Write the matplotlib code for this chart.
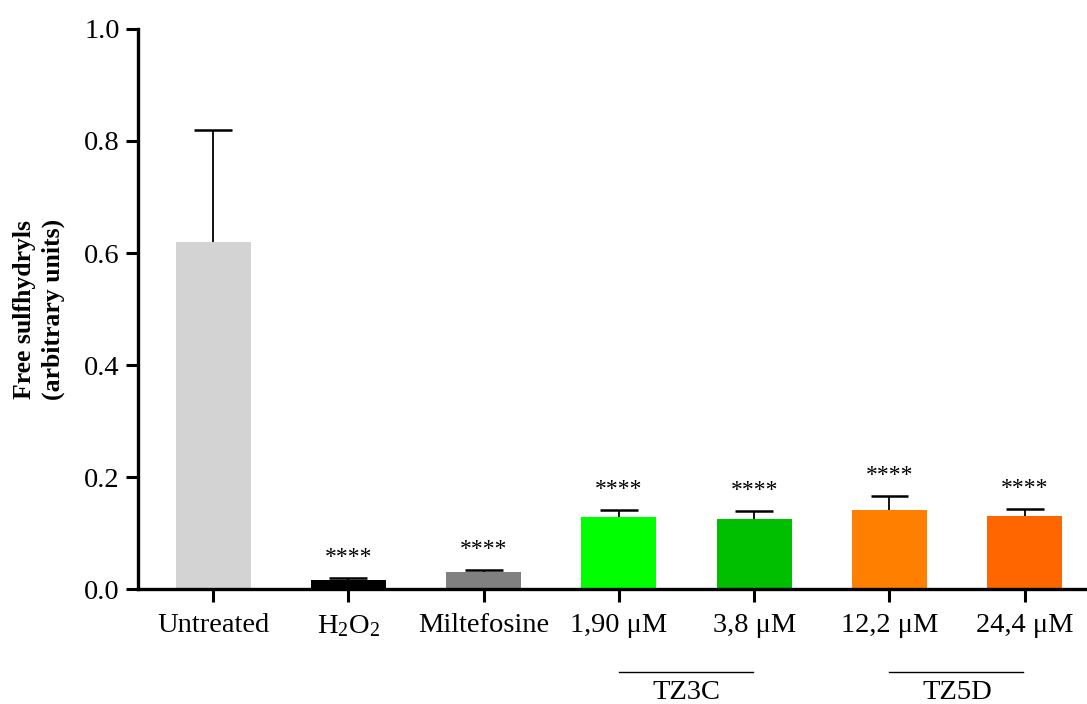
import matplotlib
matplotlib.use("Agg")
import matplotlib.pyplot as plt
import numpy as np

plt.rcParams['font.family'] = ['Liberation Serif', 'DejaVu Serif']
plt.rcParams['mathtext.fontset'] = 'custom'
plt.rcParams['mathtext.rm'] = 'Liberation Serif'
plt.rcParams['mathtext.it'] = 'Liberation Serif:italic'

categories = ['Untreated', r'H$_\mathregular{2}$O$_\mathregular{2}$', 'Miltefosine',
              '1,90 μM', '3,8 μM', '12,2 μM', '24,4 μM']
values = [0.62, 0.016, 0.030, 0.129, 0.125, 0.141, 0.130]
errors = [0.20, 0.004, 0.005, 0.012, 0.014, 0.025, 0.013]
stars = ['', '****', '****', '****', '****', '****', '****']
colors = ['#d3d3d3', '#000000', '#808080', '#00ff00', '#00bf00', '#ff8000', '#ff6600']
groups = [('TZ3C', 3, 4), ('TZ5D', 5, 6)]

fig = plt.figure(figsize=(10.87, 7.04), dpi=100)
ax = fig.add_axes([0.127, 0.163, 0.873, 0.796])

x = np.arange(len(categories))
bw = 0.555
ax.bar(x, values, width=bw, color=colors, zorder=2)
tops = np.array(values) + np.array(errors)
ax.vlines(x, values, tops, color='black', lw=1.3, zorder=3)
ax.hlines(tops, x - 0.14, x + 0.14, color='black', lw=1.8, zorder=3)
for xi, t, s in zip(x, tops, stars):
    if s:
        ax.text(xi, t + 0.018, s, ha='center', va='bottom', fontsize=17)

ax.set_xlim(-0.555, 6.46)
ax.set_ylim(0, 1.0)
ax.set_yticks([0.0, 0.2, 0.4, 0.6, 0.8, 1.0])
ax.set_yticklabels(['0.0', '0.2', '0.4', '0.6', '0.8', '1.0'])
ax.set_xticks(x)
ax.set_xticklabels(categories)
ax.tick_params(axis='both', labelsize=20.5, width=2.2, length=9, direction='out')
ax.tick_params(axis='x', pad=8)
ax.tick_params(axis='y', pad=4)
for sp in ['top', 'right']:
    ax.spines[sp].set_visible(False)
for sp in ['left', 'bottom']:
    ax.spines[sp].set_linewidth(2.4)

ax.set_ylabel('Free sulfhydryls\n(arbitrary units)', fontsize=18.5, fontweight='bold',
              linespacing=1.3, labelpad=14)

for name, a, b in groups:
    ax.plot([a, b - 0.01], [-0.148, -0.148], color='black', lw=1.0,
            transform=ax.get_xaxis_transform(), clip_on=False)
    ax.text((a + b) / 2, -0.162, name, ha='center', va='top', fontsize=20.5,
            transform=ax.get_xaxis_transform())

fig.savefig('out.png', dpi=100)
